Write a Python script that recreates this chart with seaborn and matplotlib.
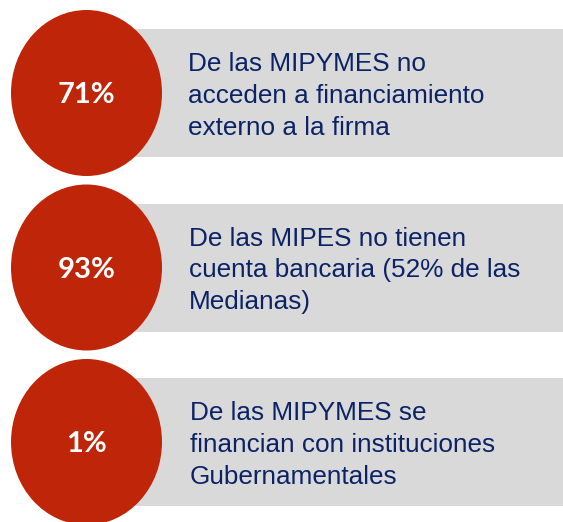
import matplotlib
matplotlib.use("Agg")
import matplotlib.pyplot as plt
from matplotlib.patches import Ellipse, Rectangle
import seaborn as sns

percentages = ["71%", "93%", "1%"]
descriptions = [
    "De las MIPYMES no\nacceden a financiamiento\nexterno a la firma",
    "De las MIPES no tienen\ncuenta bancaria (52% de las\nMedianas)",
    "De las MIPYMES se\nfinancian con instituciones\nGubernamentales",
]

red = "#BF2609"
gray = "#D9D9D9"
navy = "#0B2366"

sns.set_theme(style="white")

W, H = 563, 522
fig = plt.figure(figsize=(W / 100, H / 100), dpi=100)
ax = fig.add_axes([0, 0, 1, 1])
ax.set_xlim(0, W)
ax.set_ylim(H, 0)
ax.axis("off")

for i, (pct, desc) in enumerate(zip(percentages, descriptions)):
    cy = 93 + 174.5 * i
    ax.add_patch(Rectangle((135, cy - 64), W - 135, 128, facecolor=gray, edgecolor="none"))
    ax.add_patch(Ellipse((86.5, cy), 151, 166, facecolor=red, edgecolor="none"))
    ax.text(86.5, cy + 2, pct, ha="center", va="center", color="white",
            fontsize=21, fontweight="bold", family="Lato")
    ax.text(188 + i, cy + 3, desc, ha="left", va="center", color=navy,
            fontsize=18.8, family="Liberation Sans", linespacing=1.42)

fig.savefig("out.png", dpi=100)
